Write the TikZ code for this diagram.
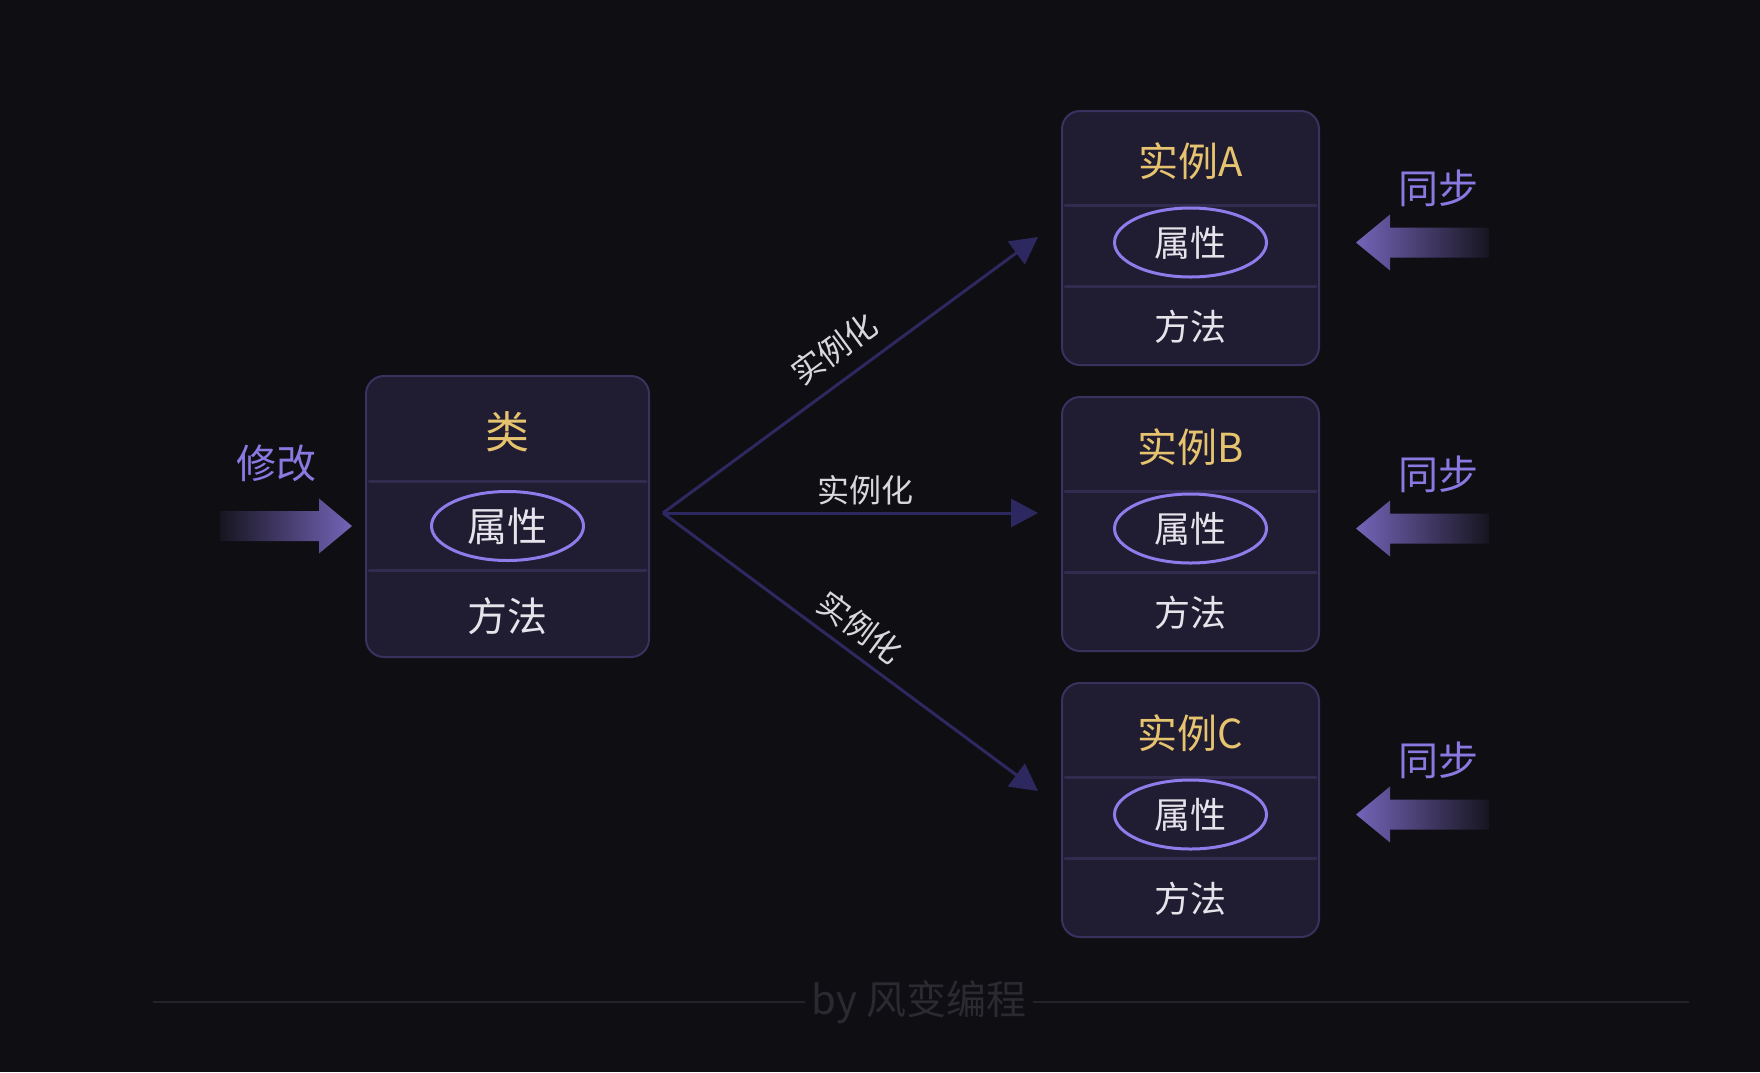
\documentclass[tikz,border=0pt]{standalone}
\usepackage{fontspec}
\setmainfont{Noto Sans CJK SC}
\usetikzlibrary{shapes.geometric,arrows.meta,positioning,calc}

\definecolor{bgdark}{HTML}{0F0E13}
\definecolor{cardfill}{HTML}{201C32}
\definecolor{cardedge}{HTML}{3A325E}
\definecolor{divline}{HTML}{322B4E}
\definecolor{gold}{HTML}{E6C36F}
\definecolor{lavender}{HTML}{8F7CEB}
\definecolor{softwhite}{HTML}{E6E4EA}
\definecolor{hintpurple}{HTML}{8B79E2}
\definecolor{arrowpurple}{HTML}{7464B8}
\definecolor{linkpurple}{HTML}{2E2860}
\definecolor{labelgrey}{HTML}{D8D7DC}
\definecolor{footgrey}{HTML}{2B2A31}
\definecolor{footline}{HTML}{24232A}

\begin{document}
\begin{tikzpicture}[
    x=0.5pt, y=-0.5pt,
    card/.style={draw=cardedge, fill=cardfill, line width=1pt, rounded corners=9pt, inner sep=0pt},
    classcard/.style={card, minimum width=141.5pt, minimum height=140.5pt},
    instcard/.style={card, minimum width=128.5pt, minimum height=127pt},
    divider/.style={draw=divline, line width=1.5pt, line cap=round},
    title/.style={text=gold},
    attr/.style={ellipse, draw=lavender, line width=1.5pt, minimum width=76pt, minimum height=34.5pt, inner sep=0pt, text=softwhite},
    method/.style={text=softwhite},
    huge/.style={font=\fontsize{22pt}{26pt}\selectfont},
    big/.style={font=\fontsize{20pt}{24pt}\selectfont},
    mid/.style={font=\fontsize{18pt}{22pt}\selectfont},
    hint/.style={text=hintpurple, font=\fontsize{20pt}{24pt}\selectfont},
    link/.style={draw=linkpurple, line width=1.5pt, -{Triangle[length=13.5pt, width=14pt]}},
    linklabel/.style={text=labelgrey, font=\fontsize{16pt}{19pt}\selectfont, sloped, above}
]

% Background
\fill[bgdark] (0,0) rectangle (1760,1072);
\useasboundingbox (0,0) rectangle (1760,1072);

% Class
\node[classcard] (cls) at (507.5,516.5) {};
\node[title, huge] (clsTitle) at ([yshift=-28.5pt]cls.north) {类};
\draw[divider] ([xshift=2pt,yshift=-53pt]cls.north west) -- ([xshift=-2pt,yshift=-53pt]cls.north east);
\node[attr, big] (clsAttr) at ([yshift=-75.5pt]cls.north) {属性};
\draw[divider] ([xshift=2pt,yshift=-97.5pt]cls.north west) -- ([xshift=-2pt,yshift=-97.5pt]cls.north east);
\node[method, big] (clsMethod) at ([yshift=-120.5pt]cls.north) {方法};

% Instance A
\node[instcard] (instA) at (1190.5,238) {};
\node[title, big] (instATitle) at ([yshift=-25.5pt]instA.north) {实例A};
\draw[divider] ([xshift=2pt,yshift=-47.5pt]instA.north west) -- ([xshift=-2pt,yshift=-47.5pt]instA.north east);
\node[attr, mid] (instAAttr) at ([yshift=-66.25pt]instA.north) {属性};
\draw[divider] ([xshift=2pt,yshift=-88pt]instA.north west) -- ([xshift=-2pt,yshift=-88pt]instA.north east);
\node[method, mid] (instAMethod) at ([yshift=-108.5pt]instA.north) {方法};

% Instance B
\node[instcard, below=15pt of instA] (instB) {};
\node[title, big] (instBTitle) at ([yshift=-25.5pt]instB.north) {实例B};
\draw[divider] ([xshift=2pt,yshift=-47.5pt]instB.north west) -- ([xshift=-2pt,yshift=-47.5pt]instB.north east);
\node[attr, mid] (instBAttr) at ([yshift=-66.25pt]instB.north) {属性};
\draw[divider] ([xshift=2pt,yshift=-88pt]instB.north west) -- ([xshift=-2pt,yshift=-88pt]instB.north east);
\node[method, mid] (instBMethod) at ([yshift=-108.5pt]instB.north) {方法};

% Instance C
\node[instcard, below=15pt of instB] (instC) {};
\node[title, big] (instCTitle) at ([yshift=-25.5pt]instC.north) {实例C};
\draw[divider] ([xshift=2pt,yshift=-47.5pt]instC.north west) -- ([xshift=-2pt,yshift=-47.5pt]instC.north east);
\node[attr, mid] (instCAttr) at ([yshift=-66.25pt]instC.north) {属性};
\draw[divider] ([xshift=2pt,yshift=-88pt]instC.north west) -- ([xshift=-2pt,yshift=-88pt]instC.north east);
\node[method, mid] (instCMethod) at ([yshift=-108.5pt]instC.north) {方法};

% Instantiation links
\coordinate (fork) at (663,513);
\coordinate (tipA) at (1038,237);
\coordinate (tipB) at (1038,513);
\coordinate (tipC) at (1038,791);
\draw[link] (fork) -- node[linklabel, pos=0.505, above=4pt] {实例化} (tipA);
\draw[link] (fork) -- node[linklabel, pos=0.54] {实例化} (tipB);
\draw[link] (fork) -- node[linklabel, pos=0.485, above=1.5pt] {实例化} (tipC);

% Modify arrow
\coordinate (modTip) at ($(cls.west |- clsAttr)+(-13,0)$);
\shade[left color=arrowpurple!8!bgdark, right color=arrowpurple] (modTip) -- ++(-33,-27.5) -- ++(0,12.5) -- ++(-99,0) -- ++(0,30) -- ++(99,0) -- ++(0,12.5) -- cycle;
\node[hint] (modLabel) at ($(modTip)+(-76,-63)$) {修改};

% Sync arrows
\coordinate (syncTipA) at ($(instA.east |- instAAttr)+(36,0)$);
\coordinate (syncTipB) at ($(instB.east |- instBAttr)+(36,0)$);
\coordinate (syncTipC) at ($(instC.east |- instCAttr)+(36,0)$);
\shade[left color=arrowpurple, right color=arrowpurple!8!bgdark] (syncTipA) -- ++(34,-28) -- ++(0,13) -- ++(99,0) -- ++(0,30) -- ++(-99,0) -- ++(0,13) -- cycle;
\shade[left color=arrowpurple, right color=arrowpurple!8!bgdark] (syncTipB) -- ++(34,-28) -- ++(0,13) -- ++(99,0) -- ++(0,30) -- ++(-99,0) -- ++(0,13) -- cycle;
\shade[left color=arrowpurple, right color=arrowpurple!8!bgdark] (syncTipC) -- ++(34,-28) -- ++(0,13) -- ++(99,0) -- ++(0,30) -- ++(-99,0) -- ++(0,13) -- cycle;
\node[hint] (syncLabelA) at ($(syncTipA)+(82,-54)$) {同步};
\node[hint] (syncLabelB) at ($(syncTipB)+(82,-54)$) {同步};
\node[hint] (syncLabelC) at ($(syncTipC)+(82,-54)$) {同步};

% Footer
\node[text=footgrey, big] (credit) at (919,1002) {by 风变编程};
\coordinate (footL) at (153,1002);
\coordinate (footR) at (1689,1002);
\draw[footline, line width=1pt] (footL) -- (credit.west);
\draw[footline, line width=1pt] (credit.east) -- (footR);

\end{tikzpicture}
\end{document}
